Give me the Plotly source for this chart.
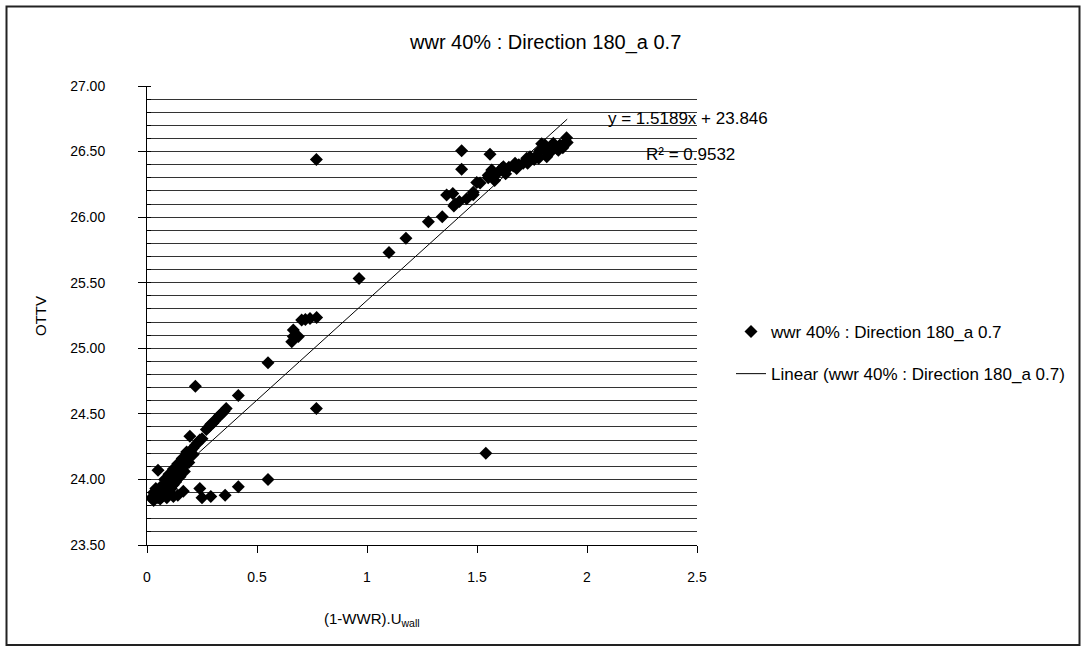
import plotly.graph_objects as go

# ---------------- data ----------------
band_x = [0.02,0.03,0.03,0.04,0.04,0.05,0.05,0.06,0.06,0.07,0.07,0.08,0.08,0.09,0.09,0.10,0.10,0.11,0.11,0.12,0.12,
          0.13,0.13,0.14,0.14,0.15,0.15,0.16,0.16,0.17,0.17,0.18,0.18,0.19,0.20,0.20,0.21,0.22,0.23,0.24,0.25]
band_y = [23.86,23.84,23.90,23.88,23.93,23.86,23.91,23.89,23.94,23.87,23.92,23.90,23.96,23.88,23.94,23.97,23.91,24.00,23.93,24.02,23.96,
          24.05,23.99,24.07,24.02,24.10,24.05,24.12,24.08,24.15,24.11,24.17,24.14,24.20,24.22,24.18,24.24,24.26,24.28,24.30,24.31]
band_edge_x = [0.08, 0.10, 0.12, 0.14, 0.16, 0.18, 0.11, 0.13, 0.15, 0.17, 0.19, 0.21]
band_edge_y = [24.00, 24.04, 24.08, 24.12, 24.16, 24.21, 23.95, 23.98, 24.02, 24.06, 24.13, 24.19]
bottom_x = [0.06, 0.09, 0.12, 0.14]
bottom_y = [23.85, 23.86, 23.87, 23.88]
upper_band_x = [0.27, 0.28, 0.29, 0.30, 0.31, 0.32, 0.33, 0.34, 0.35, 0.36]
upper_band_y = [24.38, 24.40, 24.42, 24.43, 24.45, 24.47, 24.49, 24.50, 24.52, 24.54]
low_scatter_x = [0.05, 0.165, 0.24, 0.25, 0.29, 0.355, 0.415, 0.55]
low_scatter_y = [24.07, 23.91, 23.93, 23.86, 23.87, 23.88, 23.945, 24.00]
outlier_x = [0.22, 0.195, 0.415, 0.55, 0.77, 0.77, 1.54]
outlier_y = [24.71, 24.33, 24.64, 24.89, 24.54, 26.44, 24.20]
mid_x = [0.658, 0.665, 0.688, 0.665, 0.703, 0.72, 0.741, 0.771]
mid_y = [25.05, 25.14, 25.09, 25.09, 25.215, 25.22, 25.228, 25.235]
rise_x = [0.964,1.10,1.177,1.279,1.342,1.362,1.39,1.395,1.42,1.40,1.453,1.483,1.483,1.499,1.514,1.551,1.551,1.567,1.59,
          1.612,1.62,1.645,1.665,1.673,1.69,1.71,1.726,1.741,1.76,1.771,1.786,1.794,1.809,1.817,1.817,1.83,1.847,1.862,
          1.877,1.89,1.89,1.907,1.91]
rise_y = [25.533,25.73,25.84,25.965,26.003,26.168,26.18,26.085,26.12,26.10,26.14,26.17,26.19,26.265,26.26,26.30,26.32,26.36,26.33,
          26.37,26.385,26.38,26.39,26.41,26.40,26.41,26.45,26.46,26.44,26.47,26.51,26.56,26.55,26.46,26.49,26.50,26.563,26.525,
          26.55,26.53,26.55,26.606,26.57]
band_low_x = [1.58, 1.63, 1.68, 1.73, 1.78, 1.83, 1.87]
band_low_y = [26.28, 26.33, 26.37, 26.41, 26.45, 26.49, 26.51]
top_out_x = [1.43, 1.559, 1.43]
top_out_y = [26.507, 26.48, 26.365]

SLOPE = 1.5189
INTERCEPT = 23.846
R2 = 0.9532

SERIES_NAME = "wwr 40% : Direction 180_a 0.7"
TREND_NAME = "Linear (wwr 40% : Direction 180_a 0.7)"
X_TITLE = "<span style='color:black'>(1-WWR).U<sub>wall</sub></span>"
Y_TITLE = "OTTV"
X_TICKS = [0, 0.5, 1, 1.5, 2, 2.5]
Y_TICKS = [23.5, 24.0, 24.5, 25.0, 25.5, 26.0, 26.5, 27.0]

x_all = (band_x + band_edge_x + bottom_x + upper_band_x + low_scatter_x + outlier_x + mid_x
         + rise_x + band_low_x + top_out_x)
y_all = (band_y + band_edge_y + bottom_y + upper_band_y + low_scatter_y + outlier_y + mid_y
         + rise_y + band_low_y + top_out_y)

trend_x = [min(x_all), max(x_all)]
trend_y = [SLOPE * v + INTERCEPT for v in trend_x]

FONT = "Liberation Sans, Arial, sans-serif"

fig = go.Figure()
fig.add_trace(go.Scatter(
    x=x_all, y=y_all, mode="markers", name=SERIES_NAME, legendgroup="a",
    marker=dict(symbol="diamond", size=10, color="black", line=dict(width=0)),
))
fig.add_trace(go.Scatter(
    x=trend_x, y=trend_y, mode="lines", name=TREND_NAME, legendgroup="b",
    line=dict(color="black", width=1),
))

# plot area: x 147..697, y 86..545 in a 1086x651 page
L, R, T, B = 147, 389, 86, 106
W, H = 1086, 651
pw, ph = W - L - R, H - T - B

def px(xp):
    return (xp - L) / pw

def py(yp):
    return (H - B - yp) / ph

fig.update_layout(
    width=W, height=H,
    margin=dict(l=L, r=R, t=T, b=B, pad=0),
    paper_bgcolor="white", plot_bgcolor="white",
    font=dict(family=FONT, color="black", size=14),
    showlegend=True,
    legend=dict(
        x=px(731), y=py(314), xanchor="left", yanchor="top",
        font=dict(size=17, family=FONT, color="black"),
        traceorder="grouped", tracegroupgap=17,
        bgcolor="rgba(0,0,0,0)", borderwidth=0,
    ),
    xaxis=dict(
        range=[0, 2.5], tickvals=X_TICKS, ticktext=[f"{v:g}" for v in X_TICKS],
        showgrid=False, zeroline=False,
        showline=True, linecolor="black", linewidth=1,
        ticks="outside", ticklen=7, tickcolor="black", tickwidth=1,
        tickfont=dict(size=14, family=FONT, color="black"), ticklabelstandoff=12,
        fixedrange=True,
    ),
    yaxis=dict(
        range=[23.5, 27.0], tickvals=Y_TICKS, ticktext=[f"{v:.2f}" for v in Y_TICKS],
        showgrid=True, gridcolor="#333333", gridwidth=1,
        zeroline=False,
        showline=True, linecolor="black", linewidth=1,
        ticks="outside", ticklen=8, tickcolor="black", tickwidth=1,
        tickfont=dict(size=14, family=FONT, color="black"), ticklabelstandoff=30,
        minor=dict(dtick=0.1, tick0=23.5, showgrid=True, gridcolor="#333333", gridwidth=1,
                   ticks="inside", ticklen=4, tickcolor="black"),
        fixedrange=True,
    ),
    annotations=[
        dict(text=SERIES_NAME, xref="paper", yref="paper", x=px(545), y=py(43),
             xanchor="center", yanchor="middle", showarrow=False,
             font=dict(size=20, family=FONT, color="black")),
        dict(text=Y_TITLE, xref="paper", yref="paper", x=px(40), y=py(316),
             xanchor="center", yanchor="middle", showarrow=False, textangle=-90,
             font=dict(size=15, family=FONT, color="black")),
        dict(text=X_TITLE, xref="paper", yref="paper", x=px(372), y=py(619),
             xanchor="center", yanchor="middle", showarrow=False,
             font=dict(size=15, family=FONT, color="black")),
        dict(text=f"y = {SLOPE}x + {INTERCEPT}", xref="paper", yref="paper", x=px(606), y=py(119),
             xanchor="left", yanchor="middle", showarrow=False,
             font=dict(size=17, family=FONT, color="black")),
        dict(text=f"R² = {R2}", xref="paper", yref="paper", x=px(644), y=py(154),
             xanchor="left", yanchor="middle", showarrow=False,
             font=dict(size=17, family=FONT, color="black")),
    ],
    shapes=[
        dict(type="rect", xref="paper", yref="paper",
             x0=px(6.5), x1=px(1079.5), y0=py(645), y1=py(6.5),
             line=dict(color="#222222", width=2), fillcolor="rgba(0,0,0,0)", layer="below"),
    ],
)

fig.write_html("out.html")
